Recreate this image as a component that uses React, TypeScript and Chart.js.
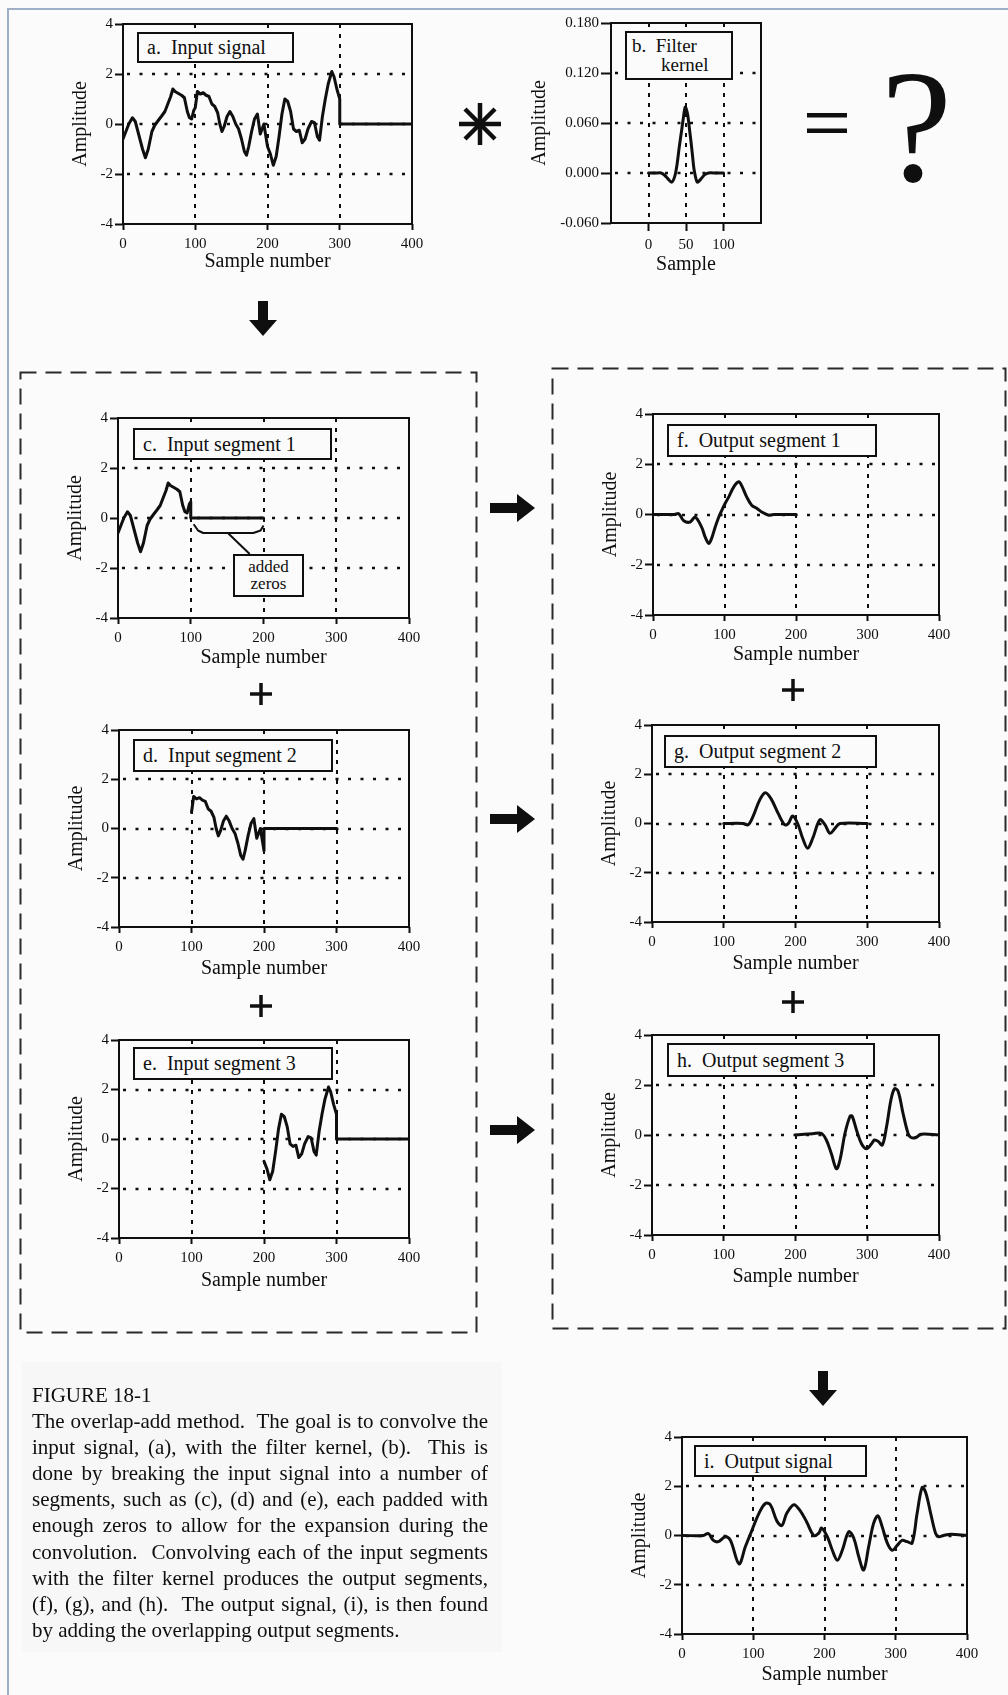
import React, { useEffect, useRef } from 'react';
import { Chart, registerables } from 'chart.js';

Chart.register(...registerables);

const SERIF = "'Liberation Serif', 'Times New Roman', Times, serif";
const INK = '#0f0f0f';
const PAGE_BG = '#fbfbfb';

// ---------------- data ----------------
const sampleTicks = [0, 100, 200, 300, 400];
const amplitudeTicks = [-4, -2, 0, 2, 4];
const sampleGrid = [100, 200, 300];
const amplitudeGrid = [-2, 0, 2];
const kernelSampleTicks = [0, 50, 100];
const kernelSampleGrid = [0, 50, 100];
const kernelAmplitudeTicks = [-0.06, 0, 0.06, 0.12, 0.18];
const kernelAmplitudeGrid = [0, 0.06, 0.12];

// (a) input signal, samples 0..300 (zero afterwards)
const inputX = [0, 4, 8, 13, 17, 22, 27, 31, 35, 40, 44, 49, 53, 58, 62, 66, 69, 72, 75, 78, 81, 85, 89, 92, 95, 98, 100, 103, 107, 111, 115, 119, 123, 127, 131, 134, 137, 140, 144, 148, 152, 156, 160, 164, 168, 171, 174, 178, 182, 186, 190, 195, 200, 204, 208, 212, 216, 220, 224, 228, 232, 236, 240, 244, 248, 252, 256, 261, 265, 269, 272, 276, 280, 284, 289, 292, 296, 300];
const inputY = [-0.6, -0.3, 0.0, 0.25, 0.1, -0.45, -1.0, -1.35, -1.0, -0.3, -0.05, 0.15, 0.3, 0.5, 0.8, 1.1, 1.4, 1.3, 1.25, 1.2, 1.15, 1.05, 0.5, 0.25, 0.2, 0.55, 0.65, 1.3, 1.2, 1.25, 1.15, 1.1, 0.8, 0.7, 0.45, 0.0, -0.3, -0.1, 0.3, 0.5, 0.3, 0.0, -0.2, -0.6, -1.1, -1.25, -0.9, -0.3, 0.2, 0.4, -0.4, 0.0, -0.9, -1.2, -1.65, -1.3, -0.5, 0.4, 1.0, 0.9, 0.5, -0.2, -0.3, -0.25, -0.75, -0.6, -0.2, 0.1, 0.05, -0.5, -0.65, 0.3, 1.0, 1.6, 2.1, 1.9, 1.4, 1.0];

// (b) filter kernel
const kernelX = [0, 10, 17, 22, 26, 31, 35, 38, 41, 44, 46, 49, 52, 55, 57, 59, 61, 65, 70, 75, 80, 90, 100];
const kernelY = [0, 0, 0, -0.003, -0.007, -0.011, -0.004, 0.01, 0.031, 0.05, 0.063, 0.079, 0.071, 0.05, 0.035, 0.018, 0.003, -0.011, -0.007, -0.002, 0, 0, 0];

// (f) output segment 1
const out1X = [0, 30, 36, 43, 52, 59, 68, 73, 78, 82, 87, 92, 96, 101, 106, 113, 120, 124, 131, 138, 145, 152, 162, 169, 200];
const out1Y = [0, 0, 0.03, -0.25, -0.3, -0.1, -0.5, -0.9, -1.15, -0.95, -0.5, -0.1, 0.15, 0.45, 0.7, 1.1, 1.3, 1.15, 0.7, 0.37, 0.25, 0.1, -0.03, 0, 0];

// (g) output segment 2
const out2X = [100, 127, 134, 141, 150, 158, 166, 176, 185, 190, 196, 203, 210, 217, 224, 234, 241, 248, 255, 262, 300];
const out2Y = [0, 0, -0.05, 0.3, 0.95, 1.25, 1.0, 0.4, -0.05, 0, 0.3, 0, -0.6, -1.0, -0.6, 0.15, -0.05, -0.4, -0.2, 0, 0];

// (h) output segment 3
const out3X = [200, 224, 236, 243, 250, 257, 262, 269, 276, 279, 285, 292, 299, 306, 310, 315, 321, 327, 333, 338, 343, 350, 357, 361, 368, 375, 400];
const out3Y = [0, 0.05, 0.07, -0.2, -0.75, -1.35, -1.0, 0.07, 0.75, 0.75, 0.2, -0.35, -0.55, -0.35, -0.2, -0.25, -0.4, 0.35, 1.4, 1.85, 1.75, 0.85, 0.05, -0.1, -0.1, 0.03, 0];

// (i) output signal
const outputX = [0, 30, 37, 44, 51, 61, 68, 80, 89, 98, 108, 117, 124, 133, 140, 147, 157, 166, 175, 185, 192, 196, 204, 211, 218, 225, 234, 241, 248, 255, 262, 269, 275, 281, 288, 295, 302, 309, 316, 323, 330, 337, 342, 349, 356, 360, 367, 377, 400];
const outputY = [0, 0, 0.08, -0.2, -0.25, -0.05, -0.2, -1.15, -0.45, 0.2, 0.9, 1.3, 1.25, 0.6, 0.4, 0.9, 1.25, 1.0, 0.55, 0.0, 0.1, 0.3, -0.05, -0.6, -1.0, -0.6, 0.15, -0.1, -0.85, -1.4, -0.45, 0.5, 0.8, 0.35, -0.3, -0.6, -0.4, -0.2, -0.25, -0.3, 0.9, 1.95, 1.75, 0.9, 0.08, -0.05, 0, 0.05, 0];

// "added zeros" bracket in (c), in data units
const bracketX = [104, 110, 117, 186, 196, 200];
const bracketY = [-0.25, -0.5, -0.6, -0.6, -0.5, -0.3];
const leaderX = [151, 181];
const leaderY = [-0.6, -1.44];

const captionLines = [
  'The overlap-add method.\u00a0 The goal is to convolve the',
  'input signal, (a), with the filter kernel, (b).\u00a0 This is',
  'done by breaking the input signal into a number of',
  'segments, such as (c), (d) and (e), each padded with',
  'enough zeros to allow for the expansion during the',
  'convolution.\u00a0 Convolving each of the input segments',
  'with the filter kernel produces the output segments,',
  '(f), (g), and (h).\u00a0 The output signal, (i), is then found',
];
const captionLast = 'by adding the overlapping output segments.';

// ---------------- helpers ----------------
type Series = { x: number[]; y: number[]; tension: number };

function segment(lo: number, hi: number, end: number): Series {
  const xs: number[] = [];
  const ys: number[] = [];
  inputX.forEach((x, i) => {
    if (x >= lo && x <= hi) {
      xs.push(x);
      ys.push(inputY[i]);
    }
  });
  xs.push(hi, end);
  ys.push(0, 0);
  return { x: xs, y: ys, tension: 0 };
}

interface PanelProps {
  L: number; T: number; R: number; B: number;
  xMin: number; xMax: number; yMin: number; yMax: number;
  xTicks: number[]; yTicks: number[]; gridX: number[]; gridY: number[];
  series: Series[];
  xTitle: string;
  yDigits?: number;
  yw?: number;
  xTitleDy?: number;
  yTitleDx?: number;
  xTickLen?: number;
  yTickLen?: number;
  notes?: { x: number[]; y: number[] }[];
}

function Panel(p: PanelProps) {
  const ref = useRef<HTMLCanvasElement>(null);
  const YW = p.yw ?? 55;
  const PT = 20;
  const PR = 26;
  const XH = 56;
  const w = p.R - p.L + YW + PR;
  const h = p.B - p.T + PT + XH;
  const xTitleDy = p.xTitleDy ?? 40;
  const yTitleDx = p.yTitleDx ?? 42;

  useEffect(() => {
    const frame = {
      id: 'frame',
      beforeDatasetsDraw(chart: any) {
        const { ctx, chartArea: a, scales } = chart;
        ctx.save();
        ctx.strokeStyle = INK;
        ctx.lineWidth = 2;
        ctx.setLineDash([4, 6]);
        p.gridX.forEach((v) => {
          const px = Math.round(scales.x.getPixelForValue(v));
          ctx.beginPath();
          ctx.moveTo(px, a.top);
          ctx.lineTo(px, a.bottom);
          ctx.stroke();
        });
        ctx.lineWidth = 2.6;
        ctx.setLineDash([3, 9.5]);
        p.gridY.forEach((v) => {
          const py = Math.round(scales.y.getPixelForValue(v));
          ctx.beginPath();
          ctx.moveTo(a.left + 4, py);
          ctx.lineTo(a.right, py);
          ctx.stroke();
        });
        ctx.restore();
      },
      afterDatasetsDraw(chart: any) {
        const { ctx, chartArea: a, scales } = chart;
        ctx.save();
        ctx.strokeStyle = INK;
        ctx.setLineDash([]);
        ctx.lineWidth = 2;
        ctx.strokeRect(a.left, a.top, a.right - a.left, a.bottom - a.top);
        (p.notes || []).forEach((n) => {
          ctx.beginPath();
          n.x.forEach((xv, i) => {
            const px = scales.x.getPixelForValue(xv);
            const py = scales.y.getPixelForValue(n.y[i]);
            if (i === 0) ctx.moveTo(px, py);
            else ctx.lineTo(px, py);
          });
          ctx.lineJoin = 'round';
          ctx.stroke();
        });
        ctx.restore();
      },
    };

    const tickFont = { family: SERIF, size: 15 };
    const titleFont = { family: SERIF, size: 20 };
    const chart = new Chart(ref.current as HTMLCanvasElement, {
      type: 'line',
      data: {
        datasets: p.series.map((s) => ({
          data: s.x.map((x, i) => ({ x, y: s.y[i] })),
          borderColor: INK,
          borderWidth: 3,
          pointRadius: 0,
          tension: s.tension,
          fill: false,
          borderJoinStyle: 'round' as const,
          borderCapStyle: 'round' as const,
        })),
      },
      options: {
        animation: false,
        responsive: false,
        devicePixelRatio: 1,
        events: [],
        layout: { padding: { top: PT, right: PR, left: 0, bottom: 0 } },
        plugins: { legend: { display: false }, tooltip: { enabled: false } },
        scales: {
          x: {
            type: 'linear',
            min: p.xMin,
            max: p.xMax,
            afterBuildTicks: (s: any) => {
              s.ticks = p.xTicks.map((v) => ({ value: v }));
            },
            afterFit: (s: any) => {
              s.height = XH;
            },
            grid: { drawOnChartArea: false, drawTicks: true, tickLength: p.xTickLen ?? 6, tickWidth: 2, tickColor: INK, color: INK },
            border: { display: false },
            ticks: { font: tickFont, color: INK, padding: 5, maxRotation: 0, autoSkip: false, callback: (v: any) => String(v) },
            title: { display: true, text: p.xTitle, font: titleFont, color: INK, padding: { top: 0, bottom: XH - xTitleDy - 12 } },
          },
          y: {
            type: 'linear',
            min: p.yMin,
            max: p.yMax,
            afterBuildTicks: (s: any) => {
              s.ticks = p.yTicks.map((v) => ({ value: v }));
            },
            afterFit: (s: any) => {
              s.width = YW;
            },
            grid: { drawOnChartArea: false, drawTicks: true, tickLength: p.yTickLen ?? 8, tickWidth: 2, tickColor: INK, color: INK },
            border: { display: false },
            ticks: {
              font: tickFont,
              color: INK,
              padding: 2,
              autoSkip: false,
              callback: (v: any) => (p.yDigits ? Number(v).toFixed(p.yDigits) : String(v)),
            },
            title: { display: true, text: 'Amplitude', font: titleFont, color: INK, padding: { top: YW - yTitleDx - 12, bottom: 0 } },
          },
        },
      } as any,
      plugins: [frame],
    });
    return () => chart.destroy();
  }, []);

  return (
    <canvas
      ref={ref}
      width={w}
      height={h}
      style={{ position: 'absolute', left: p.L - YW, top: p.T - PT, width: w, height: h }}
    />
  );
}

function LabelBox(props: { x: number; y: number; w: number; h: number; children: React.ReactNode; size?: number; lh?: number; pad?: number }) {
  return (
    <div
      style={{
        position: 'absolute',
        left: props.x,
        top: props.y,
        width: props.w,
        height: props.h,
        boxSizing: 'border-box',
        border: `2px solid ${INK}`,
        background: PAGE_BG,
        fontFamily: SERIF,
        fontSize: props.size ?? 20,
        lineHeight: `${props.lh ?? props.h - 4}px`,
        paddingLeft: props.pad ?? 8,
        color: INK,
        whiteSpace: 'nowrap',
      }}
    >
      {props.children}
    </div>
  );
}

function RightArrow({ x, y }: { x: number; y: number }) {
  return <polygon points={`${x},${y - 5} ${x + 27},${y - 5} ${x + 27},${y - 14} ${x + 45},${y} ${x + 27},${y + 14} ${x + 27},${y + 5} ${x},${y + 5}`} fill={INK} />;
}

function DownArrow({ x, y }: { x: number; y: number }) {
  return <polygon points={`${x - 5},${y} ${x + 5},${y} ${x + 5},${y + 19} ${x + 14},${y + 19} ${x},${y + 35} ${x - 14},${y + 19} ${x - 5},${y + 19}`} fill={INK} />;
}

function Plus({ x, y }: { x: number; y: number }) {
  return (
    <g stroke={INK} strokeWidth={3.5}>
      <line x1={x - 11} y1={y} x2={x + 11} y2={y} />
      <line x1={x} y1={y - 11} x2={x} y2={y + 11} />
    </g>
  );
}

export default function App() {
  const base = { xMin: 0, xMax: 400, yMin: -4, yMax: 4, xTicks: sampleTicks, yTicks: amplitudeTicks, gridX: sampleGrid, gridY: amplitudeGrid, xTitle: 'Sample number' };
  return (
    <div style={{ position: 'absolute', left: 0, top: 0, width: 1008, height: 1695, background: PAGE_BG, overflow: 'hidden' }}>
      <div style={{ position: 'absolute', left: 7, top: 8, width: 1010, height: 1700, borderLeft: '2px solid #9fb0c6', borderTop: '2px solid #9fb0c6' }} />
      <div style={{ position: 'absolute', left: 22, top: 1362, width: 480, height: 290, background: '#f7f7f7' }} />

      <Panel {...base} L={123} T={24} R={412} B={224} series={[segment(0, 300, 400)]} xTitleDy={38} />
      <Panel
        L={611} T={23} R={761} B={223}
        xMin={-50} xMax={150} yMin={-0.06} yMax={0.18}
        xTicks={kernelSampleTicks} yTicks={kernelAmplitudeTicks} gridX={kernelSampleGrid} gridY={kernelAmplitudeGrid}
        series={[{ x: kernelX, y: kernelY, tension: 0.3 }]}
        xTitle="Sample" yDigits={3} yw={85} yTitleDx={71} xTitleDy={42} xTickLen={8} yTickLen={10}
      />
      <Panel {...base} L={118} T={418} R={409} B={618} series={[segment(0, 100, 200)]} notes={[{ x: bracketX, y: bracketY }, { x: leaderX, y: leaderY }]} />
      <Panel {...base} L={119} T={730} R={409} B={927} series={[segment(100, 200, 300)]} xTitleDy={42} />
      <Panel {...base} L={119} T={1040} R={409} B={1238} series={[segment(200, 300, 400)]} xTitleDy={43} />
      <Panel {...base} L={653} T={414} R={939} B={615} series={[{ x: out1X, y: out1Y, tension: 0.35 }]} />
      <Panel {...base} L={652} T={725} R={939} B={922} series={[{ x: out2X, y: out2Y, tension: 0.35 }]} xTitleDy={42} />
      <Panel {...base} L={652} T={1035} R={939} B={1235} series={[{ x: out3X, y: out3Y, tension: 0.35 }]} xTitleDy={42} />
      <Panel {...base} L={682} T={1437} R={967} B={1634} series={[{ x: outputX, y: outputY, tension: 0.35 }]} xTitleDy={41} />

      <svg width={1008} height={1695} style={{ position: 'absolute', left: 0, top: 0, pointerEvents: 'none' }}>
        <rect x={20.5} y={372.5} width={456} height={960} fill="none" stroke="#2a2a2a" strokeWidth={2} strokeDasharray="16 9" />
        <rect x={552.5} y={368.5} width={453} height={960} fill="none" stroke="#2a2a2a" strokeWidth={2} strokeDasharray="16 9" />
        <g stroke={INK} strokeWidth={4.5} strokeLinecap="butt">
          <line x1={459} y1={124} x2={501} y2={124} />
          <line x1={480} y1={103} x2={480} y2={145} />
          <line x1={465} y1={109} x2={495} y2={139} />
          <line x1={465} y1={139} x2={495} y2={109} />
        </g>
        <rect x={807} y={113} width={40} height={4.5} fill={INK} />
        <rect x={807} y={128.5} width={40} height={4.5} fill={INK} />
        <DownArrow x={263} y={301} />
        <DownArrow x={823} y={1371} />
        <RightArrow x={490} y={508} />
        <RightArrow x={490} y={819} />
        <RightArrow x={490} y={1130} />
        <Plus x={261} y={694} />
        <Plus x={261} y={1006} />
        <Plus x={793} y={690} />
        <Plus x={793} y={1002} />
      </svg>

      <div style={{ position: 'absolute', left: 881, top: 47, fontFamily: SERIF, fontSize: 160, lineHeight: '160px', color: INK }}>?</div>

      <LabelBox x={137} y={32} w={157} h={31}>a.&nbsp;&nbsp;Input signal</LabelBox>
      <LabelBox x={625} y={31} w={108} h={49} size={19} lh={19} pad={5}>
        <div style={{ paddingTop: 3 }}>b.&nbsp;&nbsp;Filter</div>
        <div style={{ paddingLeft: 29 }}>kernel</div>
      </LabelBox>
      <LabelBox x={133} y={428} w={199} h={32}>c.&nbsp;&nbsp;Input segment 1</LabelBox>
      <LabelBox x={233} y={554} w={71} h={43} size={17} lh={17} pad={0}>
        <div style={{ textAlign: 'center', paddingTop: 2 }}>added</div>
        <div style={{ textAlign: 'center' }}>zeros</div>
      </LabelBox>
      <LabelBox x={133} y={739} w={200} h={33}>d.&nbsp;&nbsp;Input segment 2</LabelBox>
      <LabelBox x={133} y={1047} w={200} h={33}>e.&nbsp;&nbsp;Input segment 3</LabelBox>
      <LabelBox x={667} y={424} w={210} h={33}>f.&nbsp;&nbsp;Output segment 1</LabelBox>
      <LabelBox x={664} y={735} w={213} h={33}>g.&nbsp;&nbsp;Output segment 2</LabelBox>
      <LabelBox x={667} y={1043} w={208} h={34}>h.&nbsp;&nbsp;Output segment 3</LabelBox>
      <LabelBox x={694} y={1445} w={173} h={32}>i.&nbsp;&nbsp;Output signal</LabelBox>

      <div style={{ position: 'absolute', left: 32, top: 1382, width: 456, fontFamily: SERIF, fontSize: 21, lineHeight: '26.1px', color: INK }}>
        <div>FIGURE 18-1</div>
        {captionLines.map((t, i) => (
          <div key={i} style={{ textAlign: 'justify', textAlignLast: 'justify' }}>{t}</div>
        ))}
        <div>{captionLast}</div>
      </div>
    </div>
  );
}
